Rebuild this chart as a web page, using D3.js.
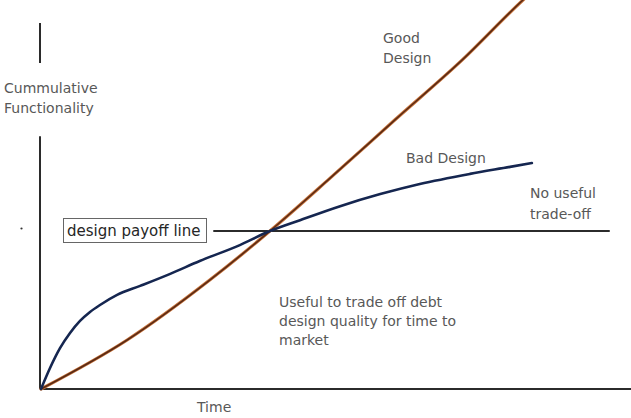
<!DOCTYPE html>
<html>
<head>
<meta charset="utf-8">
<script src="https://cdn.jsdelivr.net/npm/d3@7/dist/d3.min.js"></script>
<style>
  html, body { margin: 0; padding: 0; background: #fff; }
  svg { display: block; }
  text { font-family: "DejaVu Sans", Verdana, sans-serif; }
</style>
</head>
<body>
<svg id="chart" width="631" height="418"></svg>
<script>
// ---- data (time units 0-100, functionality units 0-100) ----
const goodTime = [0, 14.6, 28.6, 38.8, 49.0, 60.0, 71.4, 81.7, 83.0];
const goodFunc = [0, 12.6, 28.0, 40.6, 54.2, 69.2, 84.6, 100, 101.8];

const badTime = [0, 1.53, 3.22, 4.92, 6.61, 8.31, 10.0, 12.9, 16.8, 21.9, 26.9, 33.7, 38.8, 43.9, 50.7, 57.5, 64.2, 72.7, 79.5, 83.2];
const badFunc = [0, 5.4, 10.5, 14.4, 17.5, 19.8, 21.6, 24.2, 26.5, 29.6, 32.9, 37.0, 40.6, 43.4, 47.0, 50.1, 52.7, 55.3, 57.1, 58.1];

const payoffLevel = 40.6;
const payoffRange = [29.2, 96.4];

const labels = {
  yTitle: ["Cummulative", "Functionality"],
  xTitle: "Time",
  good: ["Good", "Design"],
  bad: "Bad Design",
  noUseful: ["No useful", "trade-off"],
  useful: ["Useful to trade off debt", "design quality for time to", "market"],
  payoff: "design payoff line"
};

// ---- scales ----
const svg = d3.select("#chart");
const x = d3.scaleLinear().domain([0, 100]).range([41, 631]);
const y = d3.scaleLinear().domain([0, 100]).range([389, 0]);

const axisColor = "#2b2b2b";
const textColor = "#585858";

// axes
svg.append("line").attr("x1", x(0)).attr("x2", x(100)).attr("y1", y(0)).attr("y2", y(0))
  .attr("stroke", axisColor).attr("stroke-width", 2);
svg.append("line").attr("x1", x(0) - 1).attr("x2", x(0) - 1).attr("y1", y(0)).attr("y2", y(65))
  .attr("stroke", axisColor).attr("stroke-width", 2);
svg.append("line").attr("x1", x(0) - 1).attr("x2", x(0) - 1).attr("y1", y(83.8)).attr("y2", y(94.1))
  .attr("stroke", axisColor).attr("stroke-width", 2);
svg.append("circle").attr("cx", 21.5).attr("cy", 228.5).attr("r", 1.1).attr("fill", "#333");

// payoff line
svg.append("line").attr("x1", x(payoffRange[0])).attr("x2", x(payoffRange[1]))
  .attr("y1", y(payoffLevel)).attr("y2", y(payoffLevel))
  .attr("stroke", axisColor).attr("stroke-width", 2);

// curves
const line = d3.line().x(d => x(d[0])).y(d => y(d[1])).curve(d3.curveMonotoneX);
const good = goodTime.map((t, i) => [t, goodFunc[i]]);
const bad = badTime.map((t, i) => [t, badFunc[i]]);

svg.append("path").datum(good).attr("d", line).attr("fill", "none")
  .attr("stroke", "#c8743c").attr("stroke-width", 3.2).attr("stroke-linecap", "round");
svg.append("path").datum(good).attr("d", line).attr("fill", "none")
  .attr("stroke", "#5a2a14").attr("stroke-width", 1.6).attr("stroke-linecap", "round");

svg.append("path").datum(bad).attr("d", line).attr("fill", "none")
  .attr("stroke", "#152650").attr("stroke-width", 2.6).attr("stroke-linecap", "round");

// payoff label box
svg.append("rect").attr("x", 63.5).attr("y", 218.5).attr("width", 143).attr("height", 24)
  .attr("fill", "#fff").attr("stroke", "#666").attr("stroke-width", 1);
svg.append("text").attr("x", 67).attr("y", 236).attr("font-size", 15).attr("fill", "#262626")
  .text(labels.payoff);

// text helper
function lines(arr, x0, y0, dy) {
  arr.forEach((s, i) => {
    svg.append("text").attr("x", x0).attr("y", y0 + i * dy)
      .attr("font-size", 14).attr("fill", textColor).text(s);
  });
}
lines(labels.yTitle, 4, 93, 20);
lines(labels.good, 383, 43, 20);
lines([labels.bad], 406, 163, 20);
lines(labels.noUseful, 530, 198, 21);
lines(labels.useful, 279, 307, 19);
lines([labels.xTitle], 197, 412, 20);
</script>
</body>
</html>
